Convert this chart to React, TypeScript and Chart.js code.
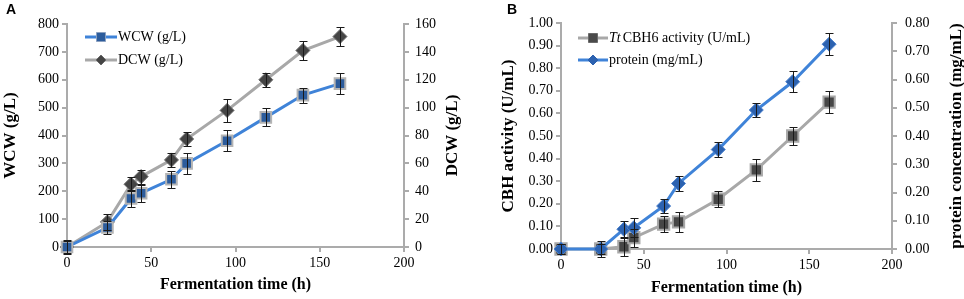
import React, { useEffect, useRef } from "react";
import { Chart, registerables } from "chart.js";
Chart.register(...registerables);

// ---------- Data ----------
const times = [0, 24, 38, 44, 62, 71, 95, 118, 140, 162];

const wcw = [0, 70, 174, 193, 243, 300, 381, 465, 545, 586];
const wcwErr = [20, 25, 30, 30, 30, 38, 38, 32, 27, 38];
const dcw = [0, 18, 45, 50.5, 62.5, 77.5, 98, 120, 141, 151];
const dcwErr = [5, 6, 5, 5, 5, 5, 8, 5, 7, 7];

const cbh = [0, 0, 0.01, 0.05, 0.11, 0.12, 0.22, 0.35, 0.5, 0.65];
const cbhErr = [0.02, 0.035, 0.04, 0.04, 0.035, 0.045, 0.035, 0.05, 0.04, 0.05];
const protein = [0, 0, 0.07, 0.075, 0.152, 0.232, 0.352, 0.492, 0.592, 0.725];
const proteinErr = [0.016, 0.016, 0.029, 0.034, 0.026, 0.026, 0.028, 0.026, 0.037, 0.038];

const xTicks = [0, 50, 100, 150, 200];
const wcwTicks = [0, 100, 200, 300, 400, 500, 600, 700, 800];
const dcwTicks = [0, 20, 40, 60, 80, 100, 120, 140, 160];
const cbhTicks = [0, 0.1, 0.2, 0.3, 0.4, 0.5, 0.6, 0.7, 0.8, 0.9, 1.0];
const proteinTicks = [0, 0.1, 0.2, 0.3, 0.4, 0.5, 0.6, 0.7, 0.8];

// ---------- Style ----------
const W = 482;
const H = 299;
const SERIF = "'Liberation Serif', 'Times New Roman', serif";
const SANS = "'Liberation Sans', Arial, sans-serif";
const axisColor = "#ababab";
const blueLine = "#3f83d8";
const grayLine = "#a8a8a8";

const tickFont = { family: SERIF, size: 14 };

function pts(xs: number[], ys: number[]) {
  return xs.map((x, i) => ({ x, y: ys[i] }));
}

const errorBarPlugin = {
  id: "errorBars",
  afterDatasetsDraw(chart: any) {
    const ctx = chart.ctx;
    ctx.save();
    ctx.strokeStyle = "#1a1a1a";
    ctx.lineWidth = 1;
    chart.data.datasets.forEach((ds: any, di: number) => {
      if (!ds.errors) return;
      const meta = chart.getDatasetMeta(di);
      const ys = chart.scales[ds.yAxisID];
      meta.data.forEach((el: any, i: number) => {
        const v = ds.data[i].y;
        const e = ds.errors[i];
        const x = Math.round(el.x) + 0.5;
        const y1 = Math.round(ys.getPixelForValue(v + e)) + 0.5;
        const y2 = Math.round(ys.getPixelForValue(v - e)) + 0.5;
        ctx.beginPath();
        ctx.moveTo(x, y1);
        ctx.lineTo(x, y2);
        ctx.moveTo(x - 4, y1);
        ctx.lineTo(x + 4, y1);
        ctx.moveTo(x - 4, y2);
        ctx.lineTo(x + 4, y2);
        ctx.stroke();
      });
    });
    ctx.restore();
  },
};

type LegendItem = {
  line: string;
  marker: "rect" | "diamond";
  fill: string;
  stroke: string;
  italic?: string;
  text: string;
};

function makeOverlayPlugin(
  label: string,
  labelX: number,
  items: LegendItem[],
  lx: number,
  ly: number[],
  lineLen: number,
  rightTitle: string,
  rightTitleX: number
) {
  return {
    id: "overlay" + label,
    afterDraw(chart: any) {
      const ctx = chart.ctx;
      const area = chart.chartArea;
      ctx.save();
      // panel label
      ctx.fillStyle = "#000";
      ctx.font = `bold 14px ${SANS}`;
      ctx.textBaseline = "alphabetic";
      ctx.textAlign = "left";
      ctx.fillText(label, labelX, 14);
      // right axis title (reads bottom-to-top)
      ctx.save();
      ctx.translate(rightTitleX, (area.top + area.bottom) / 2);
      ctx.rotate(-Math.PI / 2);
      ctx.font = `bold 17px ${SERIF}`;
      ctx.textAlign = "center";
      ctx.textBaseline = "middle";
      ctx.fillText(rightTitle, 0, 0);
      ctx.restore();
      // legend
      ctx.textAlign = "left";
      items.forEach((it, i) => {
        const y = ly[i];
        ctx.strokeStyle = it.line;
        ctx.lineWidth = 3;
        ctx.beginPath();
        ctx.moveTo(lx, y);
        ctx.lineTo(lx + lineLen, y);
        ctx.stroke();
        const cx = lx + lineLen / 2;
        ctx.fillStyle = it.fill;
        ctx.strokeStyle = it.stroke;
        ctx.lineWidth = 1;
        ctx.beginPath();
        if (it.marker === "rect") {
          ctx.rect(cx - 4.5, y - 4.5, 9, 9);
        } else {
          ctx.moveTo(cx, y - 5);
          ctx.lineTo(cx + 5, y);
          ctx.lineTo(cx, y + 5);
          ctx.lineTo(cx - 5, y);
          ctx.closePath();
        }
        ctx.fill();
        ctx.stroke();
        let tx = lx + lineLen + 1;
        ctx.fillStyle = "#000";
        ctx.textBaseline = "middle";
        if (it.italic) {
          ctx.font = `italic 14px ${SERIF}`;
          ctx.fillText(it.italic, tx, y);
          tx += ctx.measureText(it.italic).width + 2;
        }
        ctx.font = `14px ${SERIF}`;
        ctx.fillText(it.text, tx, y);
      });
      ctx.restore();
    },
  };
}

function fixedTicks(list: number[]) {
  return (s: any) => {
    s.ticks = list.map((v) => ({ value: v }));
  };
}

function xScale(bottom: number, titlePad: number) {
  return {
    type: "linear",
    min: 0,
    max: 200,
    afterBuildTicks: fixedTicks(xTicks),
    afterFit: (s: any) => {
      s.height = H - bottom;
    },
    ticks: { color: "#000", font: tickFont, padding: 3, maxRotation: 0 },
    grid: { drawOnChartArea: false, drawTicks: true, tickLength: 5, color: axisColor, lineWidth: 2 },
    border: { color: axisColor, width: 2 },
    title: {
      display: true,
      text: "Fermentation time (h)",
      color: "#000",
      font: { family: SERIF, size: 16, weight: "bold" },
      padding: { top: 0, bottom: titlePad },
    },
  };
}

function yScale(opts: {
  position: "left" | "right";
  min: number;
  max: number;
  ticks: number[];
  width: number;
  title?: string;
  titlePad: number;
  labelPad: number;
  decimals: number;
}) {
  return {
    type: "linear",
    position: opts.position,
    min: opts.min,
    max: opts.max,
    afterBuildTicks: fixedTicks(opts.ticks),
    afterFit: (s: any) => {
      s.width = opts.width;
    },
    ticks: {
      color: "#000",
      font: tickFont,
      padding: opts.labelPad,
      callback: (v: any) => Number(v).toFixed(opts.decimals),
    },
    grid: { drawOnChartArea: false, drawTicks: true, tickLength: 5, color: axisColor, lineWidth: 2 },
    border: { color: axisColor, width: 2 },
    title: {
      display: !!opts.title,
      text: opts.title || "",
      color: "#000",
      font: { family: SERIF, size: 17, weight: "bold" },
      padding: { top: opts.titlePad, bottom: 0 },
    },
  };
}

function makeChartA(canvas: HTMLCanvasElement) {
  const overlay = makeOverlayPlugin(
    "A",
    6,
    [
      { line: blueLine, marker: "rect", fill: "#2c5c9c", stroke: "#8aa0c0", text: "WCW (g/L)" },
      { line: grayLine, marker: "diamond", fill: "#454545", stroke: "#6a6a6a", text: "DCW (g/L)" },
    ],
    85,
    [37, 60],
    32,
    "DCW (g/L)",
    453
  );
  return new Chart(canvas, {
    type: "line",
    data: {
      datasets: [
        {
          label: "WCW (g/L)",
          data: pts(times, wcw),
          errors: wcwErr,
          yAxisID: "y",
          borderColor: blueLine,
          borderWidth: 3,
          pointStyle: "rect",
          pointRadius: 7.5,
          pointBackgroundColor: "#2c5c9c",
          pointBorderColor: "#b4b4b4",
          pointBorderWidth: 2,
          clip: false,
        } as any,
        {
          label: "DCW (g/L)",
          data: pts(times, dcw),
          errors: dcwErr,
          yAxisID: "y2",
          borderColor: grayLine,
          borderWidth: 3,
          pointStyle: "rectRot",
          pointRadius: 7,
          pointBackgroundColor: "#454545",
          pointBorderColor: "#6a6a6a",
          pointBorderWidth: 1,
          clip: false,
        } as any,
      ],
    },
    options: {
      animation: false,
      responsive: false,
      layout: { padding: { top: 24, left: 0, right: 0, bottom: 0 } },
      plugins: { legend: { display: false }, tooltip: { enabled: false } },
      scales: {
        x: xScale(247, 4.4),
        y: yScale({ position: "left", min: 0, max: 800, ticks: wcwTicks, width: 67, title: "WCW (g/L)", titlePad: 0, labelPad: 3, decimals: 0 }),
        y2: yScale({ position: "right", min: 0, max: 160, ticks: dcwTicks, width: W - 404, titlePad: 0, labelPad: 6, decimals: 0 }),
      } as any,
    },
    plugins: [errorBarPlugin, overlay],
  } as any);
}

function makeChartB(canvas: HTMLCanvasElement) {
  const overlay = makeOverlayPlugin(
    "B",
    25,
    [
      { line: grayLine, marker: "rect", fill: "#4a4a4a", stroke: "#6a6a6a", italic: "Tt", text: "CBH6 activity (U/mL)" },
      { line: blueLine, marker: "diamond", fill: "#2c62b0", stroke: "#2c62b0", text: "protein (mg/mL)" },
    ],
    96,
    [38, 60],
    30,
    "protein concentration (mg/mL)",
    475
  );
  return new Chart(canvas, {
    type: "line",
    data: {
      datasets: [
        {
          label: "protein (mg/mL)",
          data: pts(times, protein),
          errors: proteinErr,
          yAxisID: "y2",
          borderColor: blueLine,
          borderWidth: 3,
          pointStyle: "rectRot",
          pointRadius: 7,
          pointBackgroundColor: "#2c62b0",
          pointBorderColor: "#4a80cc",
          pointBorderWidth: 1,
          clip: false,
        } as any,
        {
          label: "CBH activity (U/mL)",
          data: pts(times, cbh),
          errors: cbhErr,
          yAxisID: "y",
          borderColor: grayLine,
          borderWidth: 3,
          pointStyle: "rect",
          pointRadius: 8,
          pointBackgroundColor: "#474747",
          pointBorderColor: "#a8a8a8",
          pointBorderWidth: 2,
          clip: false,
        } as any,
      ],
    },
    options: {
      animation: false,
      responsive: false,
      layout: { padding: { top: 23, left: 0, right: 0, bottom: 0 } },
      plugins: { legend: { display: false }, tooltip: { enabled: false } },
      scales: {
        x: xScale(249, 1.4),
        y: yScale({ position: "left", min: 0, max: 1, ticks: cbhTicks, width: 79, title: "CBH activity (U/mL)", titlePad: 16, labelPad: 3, decimals: 2 }),
        y2: yScale({ position: "right", min: 0, max: 0.8, ticks: proteinTicks, width: W - 410, titlePad: 0, labelPad: 8, decimals: 2 }),
      } as any,
    },
    plugins: [errorBarPlugin, overlay],
  } as any);
}

export default function App() {
  const refA = useRef<HTMLCanvasElement | null>(null);
  const refB = useRef<HTMLCanvasElement | null>(null);
  useEffect(() => {
    const a = makeChartA(refA.current!);
    const b = makeChartB(refB.current!);
    return () => {
      a.destroy();
      b.destroy();
    };
  }, []);
  return (
    <div style={{ position: "absolute", left: 0, top: 0, width: 964, height: 299, background: "#fff" }}>
      <canvas ref={refA} width={W} height={H} style={{ position: "absolute", left: 0, top: 0, width: W, height: H }} />
      <canvas ref={refB} width={W} height={H} style={{ position: "absolute", left: W, top: 0, width: W, height: H }} />
    </div>
  );
}
